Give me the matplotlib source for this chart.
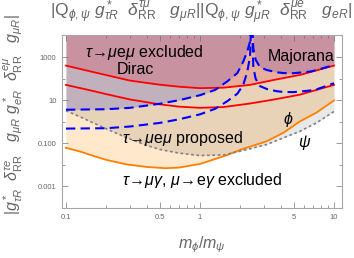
import numpy as np
import matplotlib
matplotlib.use('Agg')
import matplotlib.pyplot as plt
from matplotlib.ticker import FixedLocator, NullFormatter

plt.rcParams['font.family'] = ['Liberation Sans', 'DejaVu Sans']
plt.rcParams['mathtext.fontset'] = 'custom'
plt.rcParams['mathtext.rm'] = 'Liberation Sans'
plt.rcParams['mathtext.it'] = 'Liberation Sans:italic'
plt.rcParams['mathtext.bf'] = 'Liberation Sans:bold'

# ---- data ----
dirac_x = [0.1, 0.15, 0.2, 0.3, 0.5, 0.7, 1.0, 1.5, 2.36, 3.5, 5.57, 10]
dirac_hi = [400, 220, 145, 81, 52, 42, 36, 38, 51, 85, 148, 400]
dirac_lo = [51, 29, 19, 10.8, 6.4, 5.0, 4.4, 4.8, 7.0, 10.5, 18, 51]

maj_left_x = [0.1, 0.2, 0.3, 0.5, 0.7, 1.0, 1.3, 1.6, 1.9, 2.1, 2.25, 2.36, 2.43]
maj_hi_left = [3.6, 3.8, 4.4, 6.8, 10, 17, 30, 75, 180, 600, 1800, 5000, 1e5]
maj_lo_left = [0.48, 0.5, 0.6, 0.88, 1.3, 2.2, 4.0, 9, 20, 50, 200, 1000, 1e5]
maj_right_x = [2.43, 2.5, 2.6, 2.8, 3.15, 3.74, 4.2, 4.94, 5.57, 6.62, 7.43, 10]
maj_hi_right = [1e5, 2500, 750, 340, 250, 196, 180, 177, 190, 211, 250, 428]
maj_lo_right = [1e5, 330, 100, 45, 33, 26, 24, 23.6, 25, 28, 32, 61]

psi_x = [0.1, 0.13, 0.16, 0.2, 0.284, 0.4, 0.5, 0.7, 1.0, 1.5, 2.0, 3.15, 4.2, 5.57, 7.43, 10]
psi_y = [3.25, 1.6, 0.88, 0.47, 0.18, 0.08, 0.052, 0.035, 0.027, 0.029, 0.043, 0.088, 0.18, 0.36, 0.9, 3.0]

phi_x = [0.1, 0.13, 0.16, 0.2, 0.284, 0.4, 0.55, 0.7, 1.0, 1.58, 2.0, 3.15, 4.2, 5.57, 7.43, 10]
phi_y = [0.062, 0.04, 0.026, 0.017, 0.0105, 0.008, 0.007, 0.0075, 0.011, 0.028, 0.05, 0.125, 0.31, 1.04, 2.7, 9.7]

xticks = [0.1, 0.5, 1, 5, 10]
xtick_labels = ['0.1', '0.5', '1', '5', '10']
yticks = [1e-3, 1e-1, 1e1, 1e3]
ytick_labels = ['0.001', '0.100', '10', '1000']

# ---- figure ----
W, H = 354, 258
fig = plt.figure(figsize=(W / 100, H / 100), dpi=100)
ax = fig.add_axes([62 / W, 1 - 208 / H, 280 / W, 173 / H])
ax.set_xscale('log')
ax.set_yscale('log')
ax.set_xlim(0.0934, 11.47)
ax.set_ylim(1e-4, 1.05e4)
TOP = 1e6

maj_x = maj_left_x + maj_right_x
maj_hi = maj_hi_left + maj_hi_right

ax.fill_between(phi_x, phi_y, TOP, color=(1.0, 0.55, 0.0), alpha=0.2, lw=0, zorder=1)
ax.fill_between(psi_x, psi_y, TOP, color='black', alpha=0.09, lw=0, zorder=1)
ax.fill_between(maj_x, maj_hi, TOP, color=(0.3, 0.3, 0.8), alpha=0.25, lw=0, zorder=2)
ax.fill_between(dirac_x, dirac_hi, TOP, color=(0.9, 0.1, 0.2), alpha=0.2, lw=0, zorder=2)

ax.plot(phi_x, phi_y, color=(1.0, 0.5, 0.0), lw=1.3, zorder=4)
ax.plot(psi_x, psi_y, color=(0.5, 0.5, 0.5), lw=1.2, dashes=(1.6, 1.6), zorder=4)
ax.plot(dirac_x, dirac_hi, color='red', lw=1.3, zorder=5)
ax.plot(dirac_x, dirac_lo, color='red', lw=1.3, zorder=5)
for xs, ys in [(maj_left_x, maj_hi_left), (maj_left_x, maj_lo_left),
               (maj_right_x, maj_hi_right), (maj_right_x, maj_lo_right)]:
    ax.plot(xs, ys, color='blue', lw=1.5, dashes=(4.5, 2.5), zorder=6)

# ticks / frame
gray = (0.55, 0.55, 0.55)
for s in ax.spines.values():
    s.set_color((0.65, 0.65, 0.65))
    s.set_linewidth(0.8)
ax.xaxis.set_major_locator(FixedLocator(xticks))
ax.set_xticklabels(xtick_labels)
minor_x = [v * d for d in (0.1, 1) for v in range(1, 10)] + [10]
ax.xaxis.set_minor_locator(FixedLocator(minor_x))
ax.xaxis.set_minor_formatter(NullFormatter())
ax.yaxis.set_major_locator(FixedLocator(yticks))
ax.set_yticklabels(ytick_labels)
ax.yaxis.set_minor_locator(FixedLocator([10.0 ** k for k in range(-4, 5)]))
ax.yaxis.set_minor_formatter(NullFormatter())
ax.tick_params(which='both', direction='in', top=True, right=True, color=gray,
               labelcolor=(0.4, 0.4, 0.4), labelsize=5.5, width=0.6, pad=4)
ax.tick_params(which='major', length=4)
ax.tick_params(which='minor', length=2)

def F(px, py):
    return px / W, 1 - py / H

fs = 11.5
fig.text(*F(144, 52), r'$\tau\!\rightarrow\!\mu\mathrm{e}\mu$ excluded', ha='center', va='center', fontsize=fs, zorder=10)
fig.text(*F(135, 69), 'Dirac', ha='center', va='center', fontsize=fs, zorder=10)
fig.text(*F(301, 57), 'Majorana', ha='center', va='center', fontsize=fs, zorder=10)
fig.text(*F(183, 138), r'$\tau\!\rightarrow\!\mu\mathrm{e}\mu$ proposed', ha='center', va='center', fontsize=fs, zorder=10)
fig.text(*F(202, 181), r'$\tau\!\rightarrow\!\mu\gamma$, $\mu\!\rightarrow\!\mathrm{e}\gamma$ excluded', ha='center', va='center', fontsize=fs, zorder=10)
fig.text(*F(288, 120), r'$\phi$', ha='center', va='center', fontsize=fs, zorder=10)
fig.text(*F(305, 142), r'$\psi$', ha='center', va='center', fontsize=fs, zorder=10)

lab = (0.4, 0.4, 0.4)
fig.text(*F(202, 245), r'$m_\phi/m_\psi$', ha='center', va='center', fontsize=fs, color=lab)
fig.text(*F(201, 13), r'$|\mathrm{Q}_{\phi,\psi}\ g^*_{\tau R}\ \ \delta^{\tau\mu}_{\mathrm{RR}}\ \ \ g_{\mu R}||\mathrm{Q}_{\phi,\psi}\ g^*_{\mu R}\ \ \delta^{\mu e}_{\mathrm{RR}}\ \ \ g_{e R}|$',
         ha='center', va='center', fontsize=12.5, color=lab)
fig.text(*F(13, 215), r'$|g^*_{\tau R}\ \ \delta^{\tau e}_{\mathrm{RR}}\ \ \ g_{\mu R}\ g^*_{e R}\ \ \delta^{e\mu}_{\mathrm{RR}}\ \ \ g_{\mu R}|$',
         ha='center', va='bottom', rotation=90, fontsize=fs, color=lab)

fig.savefig('out.png', dpi=100)
